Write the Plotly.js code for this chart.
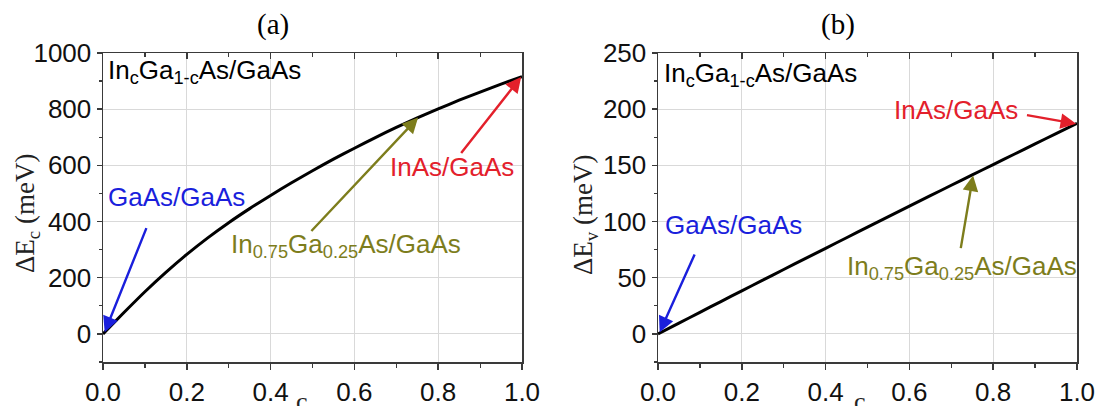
<!DOCTYPE html>
<html>
<head>
<meta charset="utf-8">
<script src="https://cdn.plot.ly/plotly-3.0.1.min.js"></script>
<style>
  html, body { margin: 0; padding: 0; background: #fff; }
  #chart { width: 1102px; height: 406px; }
</style>
</head>
<body>
<div id="chart"></div>
<script>
// ---- data ----
const composition = [0.0, 0.05, 0.1, 0.15, 0.2, 0.25, 0.3, 0.35, 0.4, 0.45, 0.5,
                     0.55, 0.6, 0.65, 0.7, 0.75, 0.8, 0.85, 0.9, 0.95, 1.0];
const deltaEc = [0, 76, 150, 219, 283, 342, 396, 446, 493, 538, 581,
                 622, 661, 699, 735, 769, 801, 832, 861, 889, 916];          // meV, panel (a)
const deltaEv = [0, 9.6, 19.2, 28.8, 38.3, 47.8, 57.3, 66.8, 76.2, 85.6, 95.0,
                 104.4, 113.7, 123.0, 132.3, 141.5, 150.7, 159.9, 169.1, 178.3, 187.5]; // meV, panel (b)
const xTickVals = [0.0, 0.2, 0.4, 0.6, 0.8, 1.0];
const xTickText = ['0.0', '0.2', '0.4', '0.6', '0.8', '1.0'];
const panelTitles = ['(a)', '(b)'];
const yTitles = ['ΔE<sub>c</sub> (meV)', 'ΔE<sub>v</sub> (meV)'];
const alloyLabel = 'In<sub>c</sub>Ga<sub>1-c</sub>As/GaAs';
const labelGaAs = 'GaAs/GaAs';
const labelMid = 'In<sub>0.75</sub>Ga<sub>0.25</sub>As/GaAs';
const labelInAs = 'InAs/GaAs';

const SANS = 'Arial, "Liberation Sans", sans-serif';
const SERIF = '"Times New Roman", "Liberation Serif", serif';
const FS = 26;
const AX = '#3a3a3a';
const GRID = '#d9d9d9';
const BLUE = '#1a1fdc', OLIVE = '#7d7d1c', RED = '#e3202b';

const W = 1102, H = 406;
const xdomA = [103 / W, 522 / W];
const xdomB = [658 / W, 1077 / W];
const ydom = [1 - 362 / H, 1 - 53 / H];

function mainX(dom, anchor) {
  return {
    domain: dom, anchor: anchor, range: [0, 1], autorange: false,
    tickmode: 'array', tickvals: xTickVals, ticktext: xTickText,
    ticks: 'outside', ticklen: 6, tickwidth: 1.5, tickcolor: AX,
    minor: { tickmode: 'linear', tick0: 0, dtick: 0.1, ticks: 'outside', ticklen: 4, tickwidth: 1.2, tickcolor: AX, showgrid: false },
    showgrid: true, gridcolor: GRID, gridwidth: 1,
    showline: true, linecolor: AX, linewidth: 1.5, mirror: true,
    zeroline: false,
    tickfont: { family: SANS, size: FS, color: '#111' }
  };
}
function mainY(dom, anchor, range, dtick) {
  return {
    domain: dom, anchor: anchor, range: range, autorange: false,
    tickmode: 'linear', tick0: 0, dtick: dtick,
    ticks: 'outside', ticklen: 5, tickwidth: 1.5, tickcolor: AX,
    minor: { tickmode: 'linear', tick0: 0, dtick: dtick / 2, ticks: 'outside', ticklen: 3, tickwidth: 1.2, tickcolor: AX, showgrid: false },
    showgrid: true, gridcolor: GRID, gridwidth: 1,
    showline: true, linecolor: AX, linewidth: 1.5, mirror: true,
    zeroline: false,
    tickfont: { family: SANS, size: FS, color: '#111' }
  };
}
function topX(over, anchor) {
  return {
    overlaying: over, side: 'top', anchor: anchor, range: [0, 1], autorange: false,
    tickmode: 'linear', tick0: 0, dtick: 0.2,
    ticks: 'inside', ticklen: 6, tickwidth: 1.5, tickcolor: AX,
    minor: { tickmode: 'linear', tick0: 0, dtick: 0.1, ticks: 'inside', ticklen: 4, tickwidth: 1.2, tickcolor: AX, showgrid: false },
    showticklabels: false, showgrid: false, showline: false, zeroline: false
  };
}

const traces = [
  { x: composition, y: deltaEc, xaxis: 'x', yaxis: 'y', mode: 'lines',
    line: { color: '#000', width: 3, shape: 'spline', smoothing: 0.6 }, hoverinfo: 'skip' },
  { x: composition, y: deltaEv, xaxis: 'x2', yaxis: 'y2', mode: 'lines',
    line: { color: '#000', width: 3, shape: 'spline', smoothing: 0.6 }, hoverinfo: 'skip' },
  { x: [], y: [], xaxis: 'x3', yaxis: 'y', mode: 'lines', hoverinfo: 'skip' },
  { x: [], y: [], xaxis: 'x4', yaxis: 'y2', mode: 'lines', hoverinfo: 'skip' }
];

function txt(xref, yref, x, y, text, color, xanchor) {
  return { xref: xref, yref: yref, x: x, y: y, text: text, showarrow: false,
    xanchor: xanchor || 'left', yanchor: 'middle',
    font: { family: SANS, size: FS, color: color } };
}
function arrow(xref, yref, hx, hy, tx, ty, color) {
  return { xref: xref, yref: yref, x: hx, y: hy, axref: xref, ayref: yref, ax: tx, ay: ty,
    text: '', showarrow: true, arrowhead: 2, arrowsize: 1.3, arrowwidth: 2.4,
    arrowcolor: color, standoff: 0, startstandoff: 0 };
}

const annotations = [
  // panel titles
  { xref: 'paper', yref: 'paper', x: 273 / W, y: 1 - 24 / H, text: panelTitles[0], showarrow: false,
    xanchor: 'center', yanchor: 'middle', font: { family: SERIF, size: 29, color: '#000' } },
  { xref: 'paper', yref: 'paper', x: 838 / W, y: 1 - 24 / H, text: panelTitles[1], showarrow: false,
    xanchor: 'center', yanchor: 'middle', font: { family: SERIF, size: 29, color: '#000' } },
  // y titles
  { xref: 'paper', yref: 'paper', x: 27 / W, y: 1 - 214 / H, text: yTitles[0], textangle: -90, showarrow: false,
    xanchor: 'center', yanchor: 'middle', font: { family: SERIF, size: 27, color: '#222' } },
  { xref: 'paper', yref: 'paper', x: 585 / W, y: 1 - 215 / H, text: yTitles[1], textangle: -90, showarrow: false,
    xanchor: 'center', yanchor: 'middle', font: { family: SERIF, size: 27, color: '#222' } },
  // x titles (cut at the bottom edge, as in the reference)
  { xref: 'paper', yref: 'paper', x: 302 / W, y: 1 - 401 / H, text: 'c', showarrow: false,
    xanchor: 'center', yanchor: 'middle', font: { family: SERIF, size: FS, color: '#222' } },
  { xref: 'paper', yref: 'paper', x: 860 / W, y: 1 - 401 / H, text: 'c', showarrow: false,
    xanchor: 'center', yanchor: 'middle', font: { family: SERIF, size: FS, color: '#222' } },

  // panel (a)
  txt('x', 'y', 0.006, 935, alloyLabel, '#000'),
  txt('x', 'y', 0.006, 486, labelGaAs, BLUE),
  arrow('x', 'y', 0.004, 6, 0.105, 382, BLUE),
  txt('x', 'y', 0.300, 315, labelMid, OLIVE),
  arrow('x', 'y', 0.752, 770, 0.494, 361, OLIVE),
  txt('x', 'y', 0.680, 593, labelInAs, RED),
  arrow('x', 'y', 0.998, 915, 0.852, 639, RED),

  // panel (b)
  txt('x2', 'y2', 0.010, 231, alloyLabel, '#000'),
  txt('x2', 'y2', 0.013, 97, labelGaAs, BLUE),
  arrow('x2', 'y2', 0.004, 1.5, 0.089, 72, BLUE),
  txt('x2', 'y2', 0.447, 59, labelMid, OLIVE),
  arrow('x2', 'y2', 0.752, 141, 0.722, 75, OLIVE),
  txt('x2', 'y2', 0.5585, 199.6, labelInAs, RED),
  arrow('x2', 'y2', 0.998, 187, 0.877, 195, RED)
];

const layout = {
  width: W, height: H,
  margin: { l: 0, r: 0, t: 0, b: 0 },
  paper_bgcolor: '#fff', plot_bgcolor: '#fff',
  showlegend: false,
  xaxis: mainX(xdomA, 'y'),
  yaxis: mainY(ydom, 'x', [-100, 1000], 200),
  xaxis2: mainX(xdomB, 'y2'),
  yaxis2: mainY(ydom, 'x2', [-25, 250], 50),
  xaxis3: topX('x', 'y'),
  xaxis4: topX('x2', 'y2'),
  annotations: annotations
};

Plotly.newPlot('chart', traces, layout, { staticPlot: true, displayModeBar: false });
</script>
</body>
</html>
